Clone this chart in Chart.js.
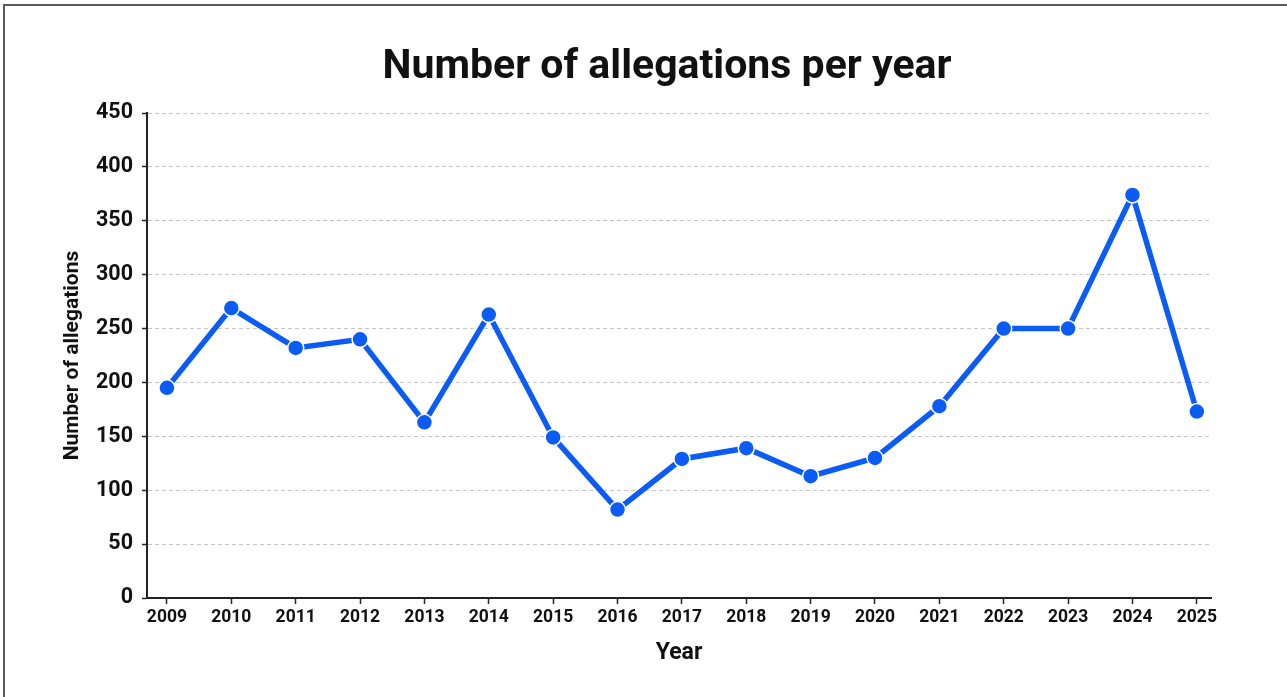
<!DOCTYPE html>
<html>
<head>
<meta charset="utf-8">
<script src="https://cdn.jsdelivr.net/npm/chart.js@4.4.1/dist/chart.umd.min.js"></script>
<style>
html, body { margin: 0; padding: 0; background: #fff; }
#wrap { position: absolute; left: 0; top: 0; width: 1287px; height: 697px; }
#frame { position: absolute; left: 3px; top: 4px; width: 1284px; height: 693px;
  border-top: 2px solid #5a5a5a; border-left: 2px solid #5a5a5a; box-sizing: border-box; pointer-events: none; }
</style>
</head>
<body>
<div id="wrap">
  <canvas id="grafico" width="1287" height="697"></canvas>
  <div id="frame"></div>
</div>
<script>
// datos del grafico
const years = [2009, 2010, 2011, 2012, 2013, 2014, 2015, 2016, 2017, 2018, 2019, 2020, 2021, 2022, 2023, 2024, 2025];
const allegations = [195, 269, 232, 240, 163, 263, 149, 82, 129, 139, 113, 130, 178, 250, 250, 374, 173];
const yTicks = [0, 50, 100, 150, 200, 250, 300, 350, 400, 450];

const titulo = "Number of allegations per year";
const tituloX = "Year";
const tituloY = "Number of allegations";

const fuente = "Roboto, 'Liberation Sans', Arial, sans-serif";
const azul = "#0b5cf4";

let puntos = years.map((y, i) => ({ x: y, y: allegations[i] }));

const ctx = document.getElementById("grafico");
new Chart(ctx, {
  type: "line",
  data: {
    datasets: [{
      label: "Allegations",
      data: puntos,
      borderColor: azul,
      backgroundColor: azul,
      borderWidth: 5.5,
      pointRadius: 8,
      pointBackgroundColor: azul,
      pointBorderColor: "#ffffff",
      pointBorderWidth: 1.5,
      tension: 0
    }]
  },
  options: {
    responsive: false,
    animation: false,
    layout: { padding: { top: 20, right: 0, bottom: 0, left: 47 } },
    plugins: {
      legend: { display: false },
      tooltip: { enabled: false },
      title: {
        display: true,
        text: titulo,
        color: "#111",
        font: { family: fuente, size: 41, weight: "bold" },
        padding: { top: 23.4, bottom: 20.4 }
      }
    },
    scales: {
      x: {
        type: "linear",
        min: 2008.69,
        max: 2025.22,
        afterFit: s => { s.height = 99; },
        ticks: {
          stepSize: 1,
          includeBounds: false,
          autoSkip: false,
          maxRotation: 0,
          padding: 3,
          color: "#111",
          font: { family: fuente, size: 17.5, weight: "bold" },
          callback: v => String(v)
        },
        grid: {
          display: true,
          drawOnChartArea: false,
          drawTicks: true,
          tickLength: 6,
          tickColor: "#222",
          tickWidth: 1.5
        },
        border: { display: true, color: "#222", width: 2 },
        title: {
          display: true,
          text: tituloX,
          color: "#111",
          font: { family: fuente, size: 23, weight: "bold" },
          padding: { top: 0, bottom: 30.2 }
        }
      },
      y: {
        min: 0,
        max: 450,
        afterFit: s => { s.width = 100; },
        afterBuildTicks: s => { s.ticks = yTicks.map(v => ({ value: v })); },
        ticks: {
          padding: 9,
          color: "#111",
          font: { family: fuente, size: 21.5, weight: "bold" }
        },
        grid: {
          color: "#c4c4c4",
          lineWidth: 1,
          tickLength: 5,
          tickColor: "#222",
          tickWidth: 1.5,
          tickBorderDash: []
        },
        border: { display: true, color: "#222", width: 2, dash: [4, 3] },
        title: {
          display: true,
          text: tituloY,
          color: "#111",
          font: { family: fuente, size: 21, weight: "bold" },
          padding: { top: 13.4, bottom: 0 }
        }
      },
      derecha: {
        position: "right",
        display: true,
        afterFit: s => { s.width = 76; },
        ticks: { display: false },
        grid: { display: false },
        border: { display: false }
      }
    }
  }
});
</script>
</body>
</html>
